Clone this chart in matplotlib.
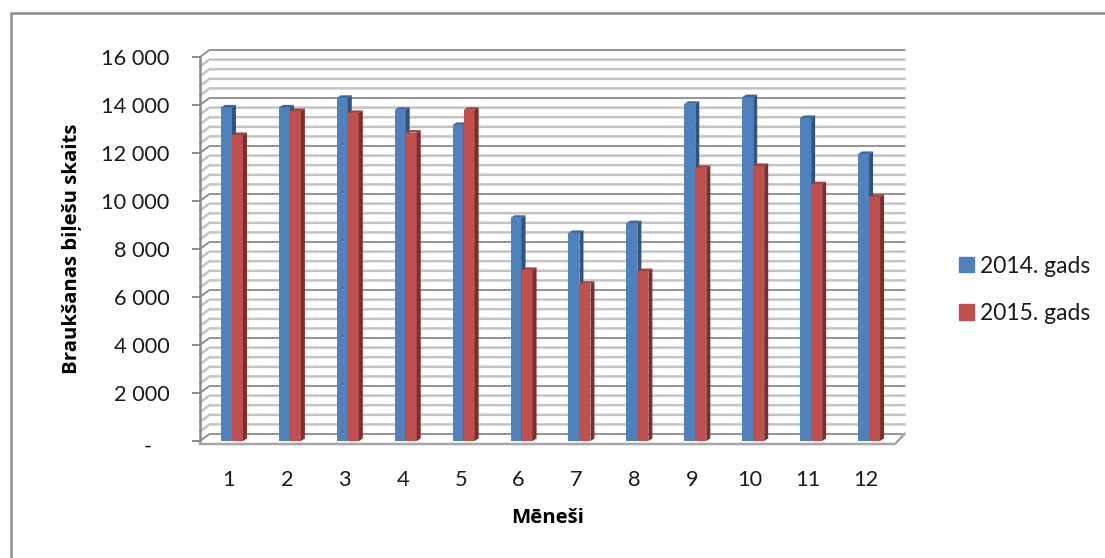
import matplotlib
matplotlib.use("Agg")
import matplotlib.pyplot as plt
from matplotlib.lines import Line2D
from matplotlib.patches import Patch, Polygon
from matplotlib.transforms import ScaledTranslation

plt.rcParams['font.family'] = ['Lato', 'DejaVu Sans']

months = [1, 2, 3, 4, 5, 6, 7, 8, 9, 10, 11, 12]
tickets_2014 = [13900, 13900, 14300, 13800, 13170, 9300, 8670, 9080, 14050, 14330, 13460, 11960]
tickets_2015 = [12750, 13750, 13670, 12850, 13800, 7130, 6550, 7080, 11380, 11460, 10700, 10170]
y_ticks = [0, 2000, 4000, 6000, 8000, 10000, 12000, 14000, 16000]
y_labels = ['-   ', '2 000', '4 000', '6 000', '8 000', '10 000', '12 000', '14 000', '16 000']
grid_step = 400
series_names = ['2014. gads', '2015. gads']

W, H = 1105, 558
fig = plt.figure(figsize=(W / 100, H / 100), dpi=100)
ax = fig.add_axes([200 / W, 1 - 441 / H, 695 / W, 384 / H])
ax.set_xlim(0.5, 12.5)
ax.set_ylim(0, 16000)

# pixel sizes turned into data units
px_x = 12 / 695
px_y = 16000 / 384
wall_dx = 9.5 * px_x
wall_dy = 7 * px_y
bar_w = 11 * px_x
bar_dx = 4 * px_x
bar_dy = 2.5 * px_y
shift = 3 * px_x

grey = '#8c8c8c'
light = '#c4c4c4'

# back wall lines, with the slanted bit on the left wall
level = 0
while level <= 16000:
    major = level % 2000 == 0
    col = grey if major else light
    lw = 1.3 if major else 1.8
    ax.plot([0.5, 0.5 + wall_dx, 12.5 + wall_dx],
            [level, level + wall_dy, level + wall_dy],
            color=col, lw=lw, clip_on=False, zorder=1, solid_joinstyle='miter')
    level += grid_step

# floor
floor_y = -3 * px_y
ax.plot([0.5, 12.5, 12.5 + wall_dx], [floor_y, floor_y, wall_dy],
        color='#a6a6a6', lw=1.8, clip_on=False, zorder=1)


def draw_bars(xs, values, front, top, side):
    for x, v in zip(xs, values):
        ax.bar(x, v, width=bar_w, align='edge', color=front, zorder=3, clip_on=False)
        ax.add_patch(Polygon([[x, v], [x + bar_dx, v + bar_dy], [x + bar_w + bar_dx, v + bar_dy], [x + bar_w, v]],
                             closed=True, facecolor=top, edgecolor='none', zorder=3, clip_on=False))
        ax.add_patch(Polygon([[x + bar_w, 0], [x + bar_w + bar_dx, bar_dy], [x + bar_w + bar_dx, v + bar_dy], [x + bar_w, v]],
                             closed=True, facecolor=side, edgecolor='none', zorder=3, clip_on=False))


draw_bars([m - bar_w + shift for m in months], tickets_2014, '#4f81bd', '#3b679c', '#2f5480')
draw_bars([m + shift for m in months], tickets_2015, '#c0504d', '#a33f3c', '#7c2e2c')

for name in ['top', 'right', 'bottom']:
    ax.spines[name].set_visible(False)
ax.spines['left'].set_color(grey)
ax.spines['left'].set_linewidth(1.8)
ax.patch.set_alpha(0)

ax.set_yticks(y_ticks)
ax.set_yticklabels(y_labels)
ax.set_xticks(months)
ax.tick_params(axis='y', length=6, width=1.4, color=grey, labelsize=15.7, pad=16, labelcolor='#1a1a1a')
ax.tick_params(axis='x', length=0, labelsize=15.7, pad=21, labelcolor='#1a1a1a')

# the dash for zero sits a bit under its tick
zero_label = ax.get_yticklabels()[0]
zero_label.set_transform(zero_label.get_transform() + ScaledTranslation(0, -4 / 100, fig.dpi_scale_trans))

ax.set_xlabel('Mēneši', fontsize=14.7, fontweight='bold', family='Open Sans', labelpad=12.5)
ax.set_ylabel('Braukšanas biļešu skaits', fontsize=14.7, fontweight='bold', family='Open Sans', labelpad=14)

handles = [Patch(color='#4f81bd'), Patch(color='#c0504d')]
fig.legend(handles, series_names, loc='center left', bbox_to_anchor=(938 / W, 1 - 290 / H),
           frameon=False, fontsize=16.5, handlelength=0.65, handleheight=0.65,
           labelspacing=1.15, handletextpad=0.3, labelcolor='#1a1a1a')

# outer chart frame, only top and left are visible
fig.add_artist(Line2D([11 / W, 11 / W, 1], [0, 1 - 13 / H, 1 - 13 / H], color='#8c8c8c', lw=1.8,
                      solid_joinstyle='miter'))

fig.savefig('out.png', dpi=100)
